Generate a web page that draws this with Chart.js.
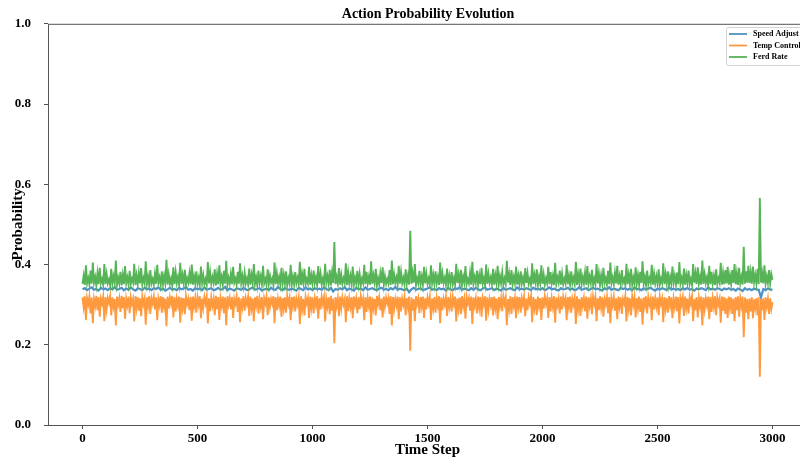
<!DOCTYPE html>
<html>
<head>
<meta charset="utf-8">
<script src="https://cdn.jsdelivr.net/npm/chart.js@4"></script>
<style>
  html, body { margin: 0; padding: 0; background: #fff; overflow: hidden; }
  #wrap { position: absolute; left: 0; top: 0; width: 856px; height: 459px; }
</style>
</head>
<body>
<div id="wrap"><canvas id="probChart" width="856" height="459"></canvas></div>
<script>
// Speed Adjust: one value every 10 time steps (0 .. 3000)
const speedAdjust = [
  0.338, 0.341, 0.336, 0.340, 0.343, 0.337, 0.339, 0.335, 0.342, 0.338,
  0.340, 0.336, 0.341, 0.338, 0.344, 0.337, 0.339, 0.342, 0.336, 0.340,
  0.337, 0.343, 0.338, 0.335, 0.341, 0.339, 0.336, 0.342, 0.338, 0.340,
  0.336, 0.341, 0.339, 0.343, 0.337, 0.340, 0.335, 0.338, 0.342, 0.337,
  0.339, 0.336, 0.342, 0.338, 0.340, 0.344, 0.337, 0.339, 0.335, 0.341,
  0.338, 0.340, 0.336, 0.343, 0.337, 0.339, 0.341, 0.336, 0.338, 0.342,
  0.337, 0.339, 0.344, 0.336, 0.340, 0.338, 0.335, 0.341, 0.339, 0.337,
  0.342, 0.338, 0.336, 0.340, 0.343, 0.337, 0.339, 0.341, 0.335, 0.338,
  0.340, 0.336, 0.342, 0.338, 0.337, 0.344, 0.339, 0.336, 0.341, 0.338,
  0.337, 0.340, 0.338, 0.335, 0.342, 0.339, 0.336, 0.343, 0.338, 0.340,
  0.336, 0.341, 0.338, 0.340, 0.337, 0.343, 0.339, 0.336, 0.342, 0.333,
  0.339, 0.337, 0.341, 0.338, 0.344, 0.336, 0.340, 0.338, 0.335, 0.342,
  0.338, 0.340, 0.336, 0.343, 0.337, 0.339, 0.341, 0.338, 0.336, 0.340,
  0.342, 0.337, 0.339, 0.336, 0.341, 0.338, 0.344, 0.337, 0.340, 0.338,
  0.336, 0.340, 0.331, 0.338, 0.342, 0.337, 0.339, 0.341, 0.336, 0.338,
  0.340, 0.343, 0.337, 0.339, 0.336, 0.341, 0.338, 0.340, 0.335, 0.342,
  0.338, 0.336, 0.341, 0.339, 0.344, 0.337, 0.340, 0.338, 0.336, 0.341,
  0.337, 0.342, 0.338, 0.336, 0.340, 0.343, 0.337, 0.339, 0.341, 0.336,
  0.340, 0.338, 0.335, 0.342, 0.337, 0.339, 0.341, 0.338, 0.336, 0.343,
  0.338, 0.340, 0.337, 0.341, 0.339, 0.336, 0.342, 0.338, 0.340, 0.337,
  0.341, 0.336, 0.339, 0.343, 0.338, 0.340, 0.337, 0.335, 0.341, 0.338,
  0.339, 0.342, 0.337, 0.340, 0.336, 0.338, 0.344, 0.337, 0.339, 0.341,
  0.336, 0.339, 0.342, 0.338, 0.340, 0.337, 0.335, 0.341, 0.338, 0.343,
  0.337, 0.340, 0.338, 0.336, 0.342, 0.339, 0.341, 0.337, 0.340, 0.336,
  0.343, 0.338, 0.339, 0.336, 0.341, 0.337, 0.340, 0.342, 0.338, 0.335,
  0.340, 0.337, 0.341, 0.339, 0.336, 0.343, 0.338, 0.340, 0.337, 0.339,
  0.336, 0.341, 0.338, 0.342, 0.337, 0.339, 0.335, 0.340, 0.338, 0.341,
  0.339, 0.336, 0.343, 0.338, 0.340, 0.337, 0.341, 0.339, 0.336, 0.340,
  0.338, 0.341, 0.337, 0.339, 0.335, 0.340, 0.338, 0.334, 0.341, 0.337,
  0.339, 0.336, 0.340, 0.338, 0.337, 0.318, 0.339, 0.336, 0.340, 0.338,
  0.337
];

// Temp Control: one value every 5 time steps (0 .. 3000)
const tempControl = [
  0.318, 0.294, 0.321, 0.262, 0.316, 0.301, 0.320, 0.278, 0.318, 0.254, 0.314, 0.297, 0.322, 0.286, 0.319, 0.270, 0.315, 0.303, 0.320, 0.259,
  0.319, 0.289, 0.316, 0.304, 0.321, 0.273, 0.318, 0.295, 0.314, 0.248, 0.320, 0.300, 0.316, 0.282, 0.322, 0.291, 0.319, 0.265, 0.315, 0.298,
  0.320, 0.279, 0.318, 0.302, 0.314, 0.258, 0.321, 0.292, 0.319, 0.285, 0.316, 0.271, 0.320, 0.301, 0.315, 0.250, 0.318, 0.296, 0.321, 0.277,
  0.316, 0.303, 0.320, 0.288, 0.318, 0.261, 0.314, 0.298, 0.321, 0.280, 0.319, 0.294, 0.315, 0.246, 0.320, 0.290, 0.318, 0.302, 0.322, 0.268,
  0.319, 0.283, 0.315, 0.297, 0.320, 0.255, 0.318, 0.291, 0.316, 0.276, 0.321, 0.301, 0.314, 0.286, 0.319, 0.260, 0.320, 0.295, 0.316, 0.280,
  0.318, 0.300, 0.321, 0.266, 0.315, 0.292, 0.319, 0.303, 0.320, 0.253, 0.316, 0.284, 0.318, 0.297, 0.314, 0.274, 0.322, 0.289, 0.319, 0.262,
  0.315, 0.296, 0.320, 0.279, 0.318, 0.249, 0.321, 0.300, 0.316, 0.288, 0.319, 0.267, 0.314, 0.302, 0.320, 0.282, 0.318, 0.256, 0.315, 0.294,
  0.321, 0.285, 0.316, 0.301, 0.319, 0.272, 0.320, 0.291, 0.315, 0.259, 0.318, 0.298, 0.322, 0.278, 0.314, 0.295, 0.319, 0.264, 0.316, 0.303,
  0.320, 0.274, 0.318, 0.294, 0.314, 0.302, 0.321, 0.254, 0.319, 0.286, 0.315, 0.297, 0.320, 0.270, 0.316, 0.290, 0.318, 0.280, 0.322, 0.301,
  0.316, 0.261, 0.319, 0.296, 0.320, 0.283, 0.315, 0.300, 0.318, 0.252, 0.321, 0.289, 0.314, 0.273, 0.319, 0.303, 0.316, 0.267, 0.320, 0.292,
  0.318, 0.278, 0.315, 0.298, 0.321, 0.265, 0.316, 0.288, 0.320, 0.302, 0.319, 0.258, 0.314, 0.295, 0.318, 0.276, 0.322, 0.285, 0.315, 0.204,
  0.319, 0.297, 0.316, 0.271, 0.320, 0.291, 0.318, 0.301, 0.314, 0.256, 0.321, 0.284, 0.315, 0.294, 0.319, 0.266, 0.320, 0.300, 0.316, 0.279,
  0.318, 0.289, 0.321, 0.302, 0.315, 0.261, 0.319, 0.282, 0.316, 0.296, 0.320, 0.250, 0.318, 0.292, 0.314, 0.273, 0.322, 0.301, 0.319, 0.286,
  0.315, 0.268, 0.320, 0.295, 0.318, 0.303, 0.316, 0.277, 0.321, 0.248, 0.319, 0.290, 0.314, 0.298, 0.320, 0.264, 0.318, 0.283, 0.315, 0.300,
  0.319, 0.274, 0.316, 0.294, 0.320, 0.185, 0.318, 0.285, 0.314, 0.259, 0.321, 0.301, 0.315, 0.279, 0.319, 0.296, 0.320, 0.267, 0.316, 0.288,
  0.318, 0.302, 0.320, 0.262, 0.315, 0.291, 0.319, 0.280, 0.316, 0.297, 0.321, 0.254, 0.318, 0.286, 0.314, 0.300, 0.320, 0.272, 0.319, 0.294,
  0.316, 0.283, 0.319, 0.301, 0.320, 0.258, 0.315, 0.290, 0.318, 0.276, 0.321, 0.296, 0.314, 0.265, 0.319, 0.303, 0.316, 0.285, 0.320, 0.252,
  0.318, 0.297, 0.315, 0.278, 0.320, 0.292, 0.319, 0.270, 0.316, 0.301, 0.321, 0.260, 0.318, 0.288, 0.314, 0.298, 0.319, 0.273, 0.320, 0.291,
  0.315, 0.264, 0.319, 0.295, 0.316, 0.284, 0.320, 0.302, 0.318, 0.249, 0.314, 0.289, 0.321, 0.277, 0.319, 0.297, 0.316, 0.266, 0.320, 0.294,
  0.319, 0.280, 0.316, 0.300, 0.320, 0.271, 0.315, 0.286, 0.318, 0.303, 0.321, 0.256, 0.319, 0.291, 0.314, 0.274, 0.320, 0.296, 0.316, 0.262,
  0.318, 0.290, 0.320, 0.301, 0.315, 0.267, 0.319, 0.283, 0.316, 0.295, 0.321, 0.255, 0.318, 0.298, 0.314, 0.278, 0.320, 0.288, 0.319, 0.302,
  0.316, 0.261, 0.319, 0.294, 0.320, 0.280, 0.315, 0.300, 0.318, 0.252, 0.321, 0.289, 0.314, 0.272, 0.319, 0.297, 0.316, 0.284, 0.320, 0.265,
  0.318, 0.296, 0.315, 0.276, 0.320, 0.302, 0.319, 0.259, 0.316, 0.286, 0.321, 0.292, 0.318, 0.270, 0.314, 0.301, 0.320, 0.279, 0.319, 0.254,
  0.315, 0.298, 0.319, 0.285, 0.316, 0.264, 0.320, 0.295, 0.318, 0.277, 0.314, 0.303, 0.321, 0.258, 0.319, 0.290, 0.316, 0.273, 0.320, 0.300,
  0.319, 0.268, 0.316, 0.291, 0.320, 0.282, 0.315, 0.250, 0.318, 0.297, 0.321, 0.278, 0.319, 0.301, 0.314, 0.261, 0.320, 0.288, 0.316, 0.295,
  0.318, 0.274, 0.320, 0.302, 0.315, 0.256, 0.319, 0.289, 0.316, 0.280, 0.321, 0.297, 0.318, 0.266, 0.314, 0.294, 0.320, 0.284, 0.319, 0.253,
  0.316, 0.300, 0.319, 0.272, 0.320, 0.291, 0.315, 0.278, 0.318, 0.303, 0.321, 0.259, 0.314, 0.286, 0.319, 0.268, 0.316, 0.296, 0.320, 0.248,
  0.318, 0.289, 0.315, 0.298, 0.320, 0.264, 0.319, 0.282, 0.316, 0.294, 0.321, 0.274, 0.318, 0.301, 0.314, 0.255, 0.320, 0.285, 0.319, 0.277,
  0.316, 0.267, 0.320, 0.292, 0.318, 0.277, 0.315, 0.259, 0.319, 0.286, 0.321, 0.270, 0.316, 0.297, 0.320, 0.219, 0.318, 0.280, 0.314, 0.264,
  0.315, 0.283, 0.318, 0.266, 0.313, 0.291, 0.316, 0.273, 0.319, 0.120, 0.314, 0.286, 0.316, 0.262, 0.318, 0.295, 0.315, 0.277, 0.316, 0.289,
  0.306
];

// Feed Rate: one value every 5 time steps (0 .. 3000)
const feedRate = [
  0.352, 0.372, 0.349, 0.398, 0.353, 0.366, 0.350, 0.385, 0.352, 0.405, 0.355, 0.369, 0.348, 0.378, 0.351, 0.392, 0.354, 0.364, 0.350, 0.401,
  0.351, 0.376, 0.353, 0.363, 0.349, 0.389, 0.352, 0.371, 0.355, 0.410, 0.350, 0.367, 0.353, 0.382, 0.348, 0.374, 0.351, 0.396, 0.354, 0.368,
  0.350, 0.384, 0.352, 0.365, 0.355, 0.402, 0.349, 0.373, 0.351, 0.379, 0.353, 0.391, 0.350, 0.366, 0.354, 0.408, 0.352, 0.370, 0.349, 0.386,
  0.353, 0.364, 0.350, 0.377, 0.352, 0.399, 0.355, 0.368, 0.349, 0.383, 0.351, 0.372, 0.354, 0.412, 0.350, 0.375, 0.352, 0.365, 0.348, 0.393,
  0.351, 0.381, 0.354, 0.369, 0.350, 0.404, 0.352, 0.374, 0.353, 0.387, 0.349, 0.366, 0.355, 0.378, 0.351, 0.400, 0.350, 0.371, 0.353, 0.383,
  0.352, 0.367, 0.349, 0.395, 0.354, 0.373, 0.351, 0.364, 0.350, 0.406, 0.353, 0.380, 0.352, 0.369, 0.355, 0.388, 0.348, 0.376, 0.351, 0.398,
  0.354, 0.370, 0.350, 0.384, 0.352, 0.409, 0.349, 0.367, 0.353, 0.377, 0.351, 0.394, 0.355, 0.365, 0.350, 0.382, 0.352, 0.403, 0.354, 0.372,
  0.349, 0.379, 0.353, 0.366, 0.351, 0.390, 0.350, 0.374, 0.354, 0.401, 0.352, 0.368, 0.348, 0.385, 0.355, 0.371, 0.351, 0.397, 0.353, 0.364,
  0.350, 0.388, 0.352, 0.372, 0.355, 0.365, 0.349, 0.405, 0.351, 0.378, 0.354, 0.369, 0.350, 0.392, 0.353, 0.375, 0.352, 0.383, 0.348, 0.366,
  0.353, 0.399, 0.351, 0.370, 0.350, 0.381, 0.354, 0.367, 0.352, 0.407, 0.349, 0.376, 0.355, 0.389, 0.351, 0.364, 0.353, 0.394, 0.350, 0.373,
  0.352, 0.385, 0.354, 0.368, 0.349, 0.396, 0.353, 0.377, 0.350, 0.365, 0.351, 0.402, 0.355, 0.371, 0.352, 0.387, 0.348, 0.379, 0.354, 0.456,
  0.351, 0.369, 0.353, 0.391, 0.350, 0.374, 0.352, 0.366, 0.355, 0.403, 0.349, 0.380, 0.354, 0.372, 0.351, 0.395, 0.350, 0.367, 0.353, 0.384,
  0.352, 0.376, 0.349, 0.365, 0.354, 0.399, 0.351, 0.382, 0.353, 0.370, 0.350, 0.408, 0.352, 0.373, 0.355, 0.389, 0.348, 0.366, 0.351, 0.378,
  0.354, 0.393, 0.350, 0.371, 0.352, 0.364, 0.353, 0.386, 0.349, 0.410, 0.351, 0.375, 0.355, 0.368, 0.350, 0.397, 0.352, 0.381, 0.354, 0.367,
  0.351, 0.388, 0.353, 0.372, 0.350, 0.484, 0.352, 0.379, 0.355, 0.401, 0.349, 0.366, 0.354, 0.384, 0.351, 0.370, 0.350, 0.394, 0.353, 0.377,
  0.352, 0.365, 0.350, 0.398, 0.354, 0.374, 0.351, 0.383, 0.353, 0.369, 0.349, 0.405, 0.352, 0.378, 0.355, 0.367, 0.350, 0.390, 0.351, 0.372,
  0.353, 0.381, 0.351, 0.366, 0.350, 0.402, 0.354, 0.375, 0.352, 0.387, 0.349, 0.370, 0.355, 0.396, 0.351, 0.364, 0.353, 0.379, 0.350, 0.407,
  0.352, 0.369, 0.354, 0.385, 0.350, 0.373, 0.351, 0.392, 0.353, 0.366, 0.349, 0.400, 0.352, 0.377, 0.355, 0.368, 0.351, 0.389, 0.350, 0.374,
  0.354, 0.397, 0.351, 0.371, 0.353, 0.380, 0.350, 0.365, 0.352, 0.409, 0.355, 0.376, 0.349, 0.386, 0.351, 0.369, 0.353, 0.395, 0.350, 0.372,
  0.351, 0.383, 0.353, 0.367, 0.350, 0.391, 0.354, 0.378, 0.352, 0.364, 0.349, 0.403, 0.351, 0.374, 0.355, 0.388, 0.350, 0.370, 0.353, 0.398,
  0.352, 0.375, 0.350, 0.366, 0.354, 0.394, 0.351, 0.381, 0.353, 0.371, 0.349, 0.404, 0.352, 0.368, 0.355, 0.385, 0.350, 0.377, 0.351, 0.365,
  0.353, 0.399, 0.351, 0.372, 0.350, 0.383, 0.354, 0.367, 0.352, 0.407, 0.349, 0.376, 0.355, 0.390, 0.351, 0.369, 0.353, 0.380, 0.350, 0.396,
  0.352, 0.370, 0.354, 0.387, 0.350, 0.365, 0.351, 0.401, 0.353, 0.378, 0.349, 0.373, 0.352, 0.392, 0.355, 0.366, 0.350, 0.384, 0.351, 0.405,
  0.354, 0.368, 0.351, 0.379, 0.353, 0.397, 0.350, 0.371, 0.352, 0.386, 0.355, 0.364, 0.349, 0.402, 0.351, 0.375, 0.353, 0.389, 0.350, 0.367,
  0.351, 0.393, 0.353, 0.374, 0.350, 0.382, 0.354, 0.408, 0.352, 0.369, 0.349, 0.385, 0.351, 0.366, 0.355, 0.399, 0.350, 0.377, 0.353, 0.371,
  0.352, 0.388, 0.350, 0.365, 0.354, 0.403, 0.351, 0.376, 0.353, 0.383, 0.349, 0.369, 0.352, 0.395, 0.355, 0.372, 0.350, 0.380, 0.351, 0.406,
  0.353, 0.367, 0.351, 0.390, 0.350, 0.374, 0.354, 0.385, 0.352, 0.364, 0.349, 0.401, 0.355, 0.378, 0.351, 0.393, 0.353, 0.370, 0.350, 0.410,
  0.352, 0.376, 0.354, 0.368, 0.350, 0.397, 0.351, 0.382, 0.353, 0.372, 0.349, 0.388, 0.352, 0.366, 0.355, 0.404, 0.350, 0.379, 0.351, 0.386,
  0.353, 0.394, 0.350, 0.373, 0.352, 0.386, 0.354, 0.401, 0.351, 0.378, 0.349, 0.392, 0.353, 0.369, 0.350, 0.444, 0.352, 0.383, 0.355, 0.397,
  0.354, 0.381, 0.352, 0.395, 0.356, 0.374, 0.353, 0.389, 0.351, 0.566, 0.355, 0.378, 0.353, 0.398, 0.352, 0.371, 0.354, 0.386, 0.353, 0.376,
  0.362
];

const speedSteps = speedAdjust.map((_, i) => i * 10);
const fineSteps = feedRate.map((_, i) => i * 5);
const seriesNames = ['Speed Adjust', 'Temp Control', 'Ferd Rate'];
const seriesColors = ['#4c92c3', '#ff993e', '#56b356'];
const xTicks = [0, 500, 1000, 1500, 2000, 2500, 3000];

const serif = "'Liberation Serif', 'Times New Roman', serif";

function toPoints(steps, values) {
  return values.map((v, i) => ({ x: steps[i], y: v }));
}

// title is centred on the whole figure, not on the cropped plot
const titleSpan = {
  id: 'titleSpan',
  afterLayout(chart) {
    chart.titleBlock.left = 0;
    chart.titleBlock.right = chart.width;
  }
};

// axes frame + small legend box in the top right (figure is cut off on the right)
const framePlugin = {
  id: 'frame',
  afterDraw(chart) {
    const { ctx, chartArea: a } = chart;
    ctx.save();
    ctx.strokeStyle = '#555';
    ctx.lineWidth = 1;
    ctx.strokeRect(a.left + 0.5, a.top + 0.5, a.right - a.left, a.bottom - a.top);

    const bx = 726, by = 27, bw = 80, bh = 38;
    ctx.fillStyle = 'rgba(255,255,255,0.85)';
    ctx.strokeStyle = '#d4d4d4';
    ctx.beginPath();
    ctx.roundRect(bx + 0.5, by + 0.5, bw, bh, 2);
    ctx.fill();
    ctx.stroke();

    ctx.font = "bold 8px " + serif;
    ctx.textBaseline = 'middle';
    chart.data.datasets.forEach((ds, i) => {
      const y = by + 7 + i * 11.5;
      ctx.strokeStyle = ds.borderColor;
      ctx.lineWidth = 1.8;
      ctx.beginPath();
      ctx.moveTo(bx + 3, y);
      ctx.lineTo(bx + 21, y);
      ctx.stroke();
      ctx.fillStyle = '#000';
      ctx.fillText(ds.label, bx + 27, y);
    });
    ctx.restore();
  }
};

const probConfig = {
  type: 'line',
  data: {
    datasets: [
      { label: seriesNames[0], data: toPoints(speedSteps, speedAdjust), borderColor: seriesColors[0], borderWidth: 2.2, order: 3 },
      { label: seriesNames[1], data: toPoints(fineSteps, tempControl), borderColor: seriesColors[1], borderWidth: 1.9, order: 2 },
      { label: seriesNames[2], data: toPoints(fineSteps, feedRate), borderColor: seriesColors[2], borderWidth: 1.9, order: 1 },
    ],
  },
  options: {
    responsive: false,
    animation: false,
    events: [],
    layout: { padding: { left: 0, right: 49, top: 0, bottom: 0 } },
    elements: {
      line: { tension: 0, fill: false },
      point: { radius: 0 },
    },
    plugins: {
      legend: { display: false },
      tooltip: { enabled: false },
      title: {
        display: true,
        text: 'Action Probability Evolution',
        color: '#000',
        font: { family: serif, size: 14, weight: 'bold' },
        padding: { top: 6, bottom: 1 },
      },
    },
    scales: {
      x: {
        type: 'linear',
        min: -150,
        max: 3150,
        afterFit(scale) { scale.height = 34; },
        afterBuildTicks(scale) { scale.ticks = xTicks.map(v => ({ value: v })); },
        grid: { display: true, drawOnChartArea: false, tickLength: 4, color: '#555' },
        border: { display: false },
        ticks: {
          color: '#000',
          padding: 2,
          maxRotation: 0,
          font: { family: serif, size: 13, weight: 'bold' },
          callback: v => String(v),
        },
        title: {
          display: true,
          text: 'Time Step',
          color: '#000',
          font: { family: serif, size: 15, weight: 'bold' },
          padding: { top: 0, bottom: 0 },
        },
      },
      y: {
        min: 0,
        max: 1,
        afterFit(scale) { scale.width = 48; },
        grid: { display: true, drawOnChartArea: false, tickLength: 4, color: '#555' },
        border: { display: false },
        ticks: {
          stepSize: 0.2,
          color: '#000',
          padding: 13,
          font: { family: serif, size: 13, weight: 'bold' },
          callback: v => v.toFixed(1),
        },
        title: {
          display: true,
          text: 'Probability',
          color: '#000',
          font: { family: serif, size: 15, weight: 'bold' },
          padding: { top: 9, bottom: 0 },
        },
      },
    },
  },
  plugins: [titleSpan, framePlugin],
};

const probCtx = document.getElementById('probChart');
window.probChart = new Chart(probCtx, probConfig);
</script>
</body>
</html>
